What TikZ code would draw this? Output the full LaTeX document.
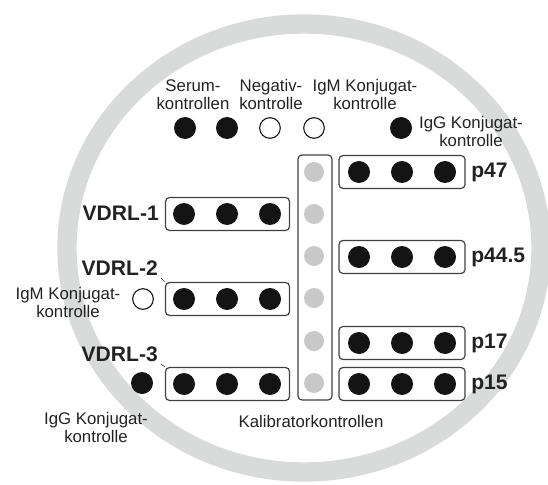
\documentclass[tikz,border=0pt]{standalone}
\usepackage{fontspec}
\setmainfont{Liberation Sans}
\definecolor{ringc}{RGB}{217,218,218}
\definecolor{dotc}{RGB}{20,20,20}
\definecolor{calc}{RGB}{200,200,200}
\definecolor{txtc}{RGB}{34,34,34}
\begin{document}
\begin{tikzpicture}[x=0.75pt,y=-0.75pt,
  bdot/.style={circle,fill=dotc,minimum size=16.5pt,inner sep=0pt},
  odot/.style={circle,draw=dotc,line width=0.8pt,fill=white,minimum size=15.5pt,inner sep=0pt},
  gdot/.style={circle,fill=calc,minimum size=15pt,inner sep=0pt},
  rowbox/.style={rectangle,rounded corners=3pt,draw=black!75,line width=0.9pt,minimum width=93pt,minimum height=24.75pt,inner sep=0pt},
  calbox/.style={rectangle,rounded corners=3pt,draw=black!75,line width=0.9pt,minimum width=25.5pt,minimum height=183.75pt,inner sep=0pt},
  small/.style={text=txtc,font=\fontsize{12.6}{13.5}\selectfont,align=center,inner sep=0pt},
  big/.style={text=txtc,font=\fontsize{15.8}{17}\selectfont\bfseries,inner sep=0pt},
  tick/.style={draw=black!75,line width=0.5pt}]
\useasboundingbox (0,0) rectangle (548,484);
\clip (0,0) rectangle (548,484);
% ring
\draw[ringc,line width=14.5pt] (304,248) ellipse [x radius=237,y radius=224];
% top row
\node[bdot] (s1) at (185,128) {};
\node[bdot] (s2) at (227,128) {};
\node[odot] (n1) at (270,128) {};
\node[odot] (m1) at (314,128) {};
\node[bdot] (g1) at (401,128) {};
\node[small] (ls) at (193,94.5) {Serum-\\kontrollen};
\node[small] (ln) at (271,94.5) {Negativ-\\kontrolle};
\node[small] (lm) at (365,94.5) {IgM Konjugat-\\kontrolle};
\node[small] (lg) at (471,131.5) {IgG Konjugat-\\kontrolle};
% calibrator column
\node[calbox] (cal) at (315,277.5) {};
\foreach \i/\y in {1/172,2/214,3/256,4/298,5/341,6/383}
  \node[gdot] (c\i) at (314,\y) {};
\node[small] (lcal) at (311,421) {Kalibratorkontrollen};
% left boxes
\foreach \i/\y in {1/214,2/299,3/384}{
  \node[rowbox] (v\i) at (227.5,\y) {};
  \node[bdot] (v\i a) at (184,\y) {};
  \node[bdot] (v\i b) at (227,\y) {};
  \node[bdot] (v\i c) at (270,\y) {};
}
\node[big,anchor=east] (lv1) at (159,213) {VDRL-1};
\node[big,anchor=east] (lv2) at (158,268) {VDRL-2};
\node[big,anchor=east] (lv3) at (158,354) {VDRL-3};
\coordinate (t2) at (161,278);
\coordinate (t3) at (161,364);
\draw[tick] (t2) -- (v2.north west);
\draw[tick] (t3) -- (v3.north west);
\node[odot] (om) at (143,299) {};
\node[bdot] (og) at (142,383) {};
\node[small] (lom) at (68,302) {IgM Konjugat-\\kontrolle};
\node[small] (log) at (96,427.5) {IgG Konjugat-\\kontrolle};
% right boxes
\foreach \i/\y/\t in {1/172/p47,2/257/p44.5,3/343/p17,4/384/p15}{
  \node[rowbox,minimum width=94.5pt] (p\i) at (402,\y) {};
  \node[bdot] (p\i a) at (359,\y) {};
  \node[bdot] (p\i b) at (402,\y) {};
  \node[bdot] (p\i c) at (445,\y) {};
  \node[big,anchor=west] (lp\i) at (471,\y) {\t};
}
\end{tikzpicture}
\end{document}
